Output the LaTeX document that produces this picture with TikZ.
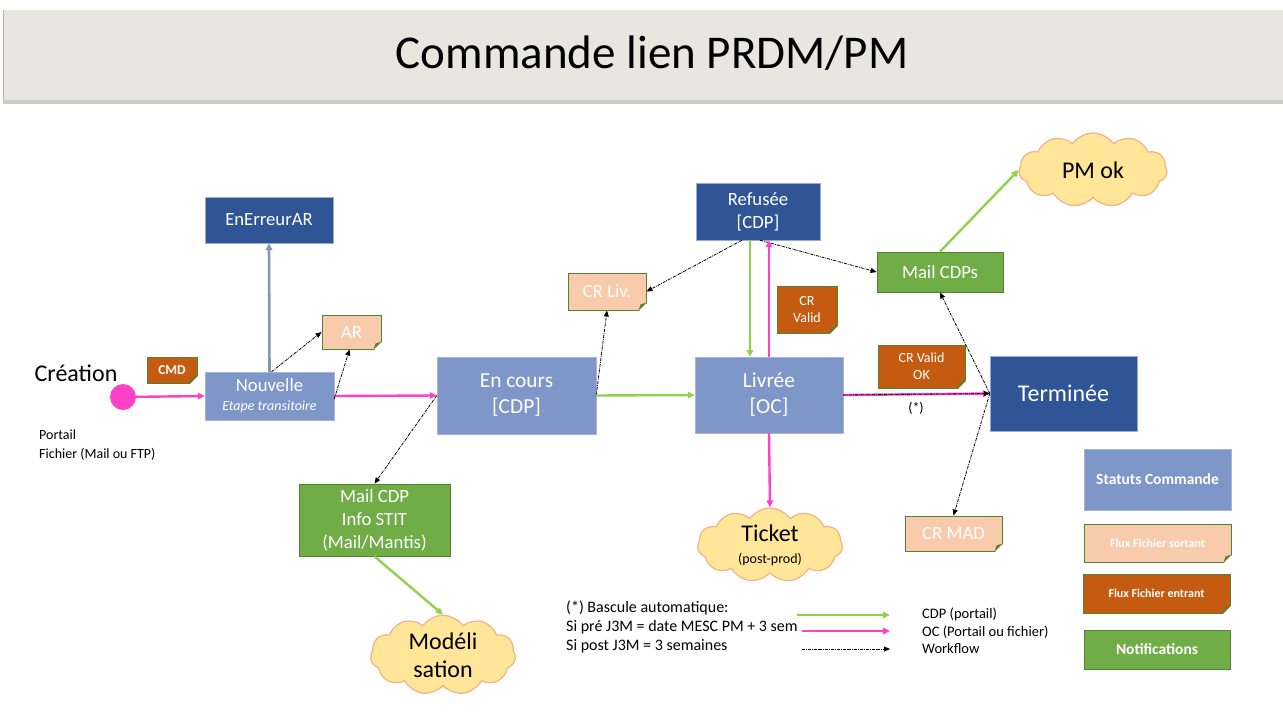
\documentclass[tikz,border=0pt]{standalone}
\usepackage{fontspec}
\setmainfont{Carlito}
\usetikzlibrary{arrows.meta,shapes.symbols}

\definecolor{titlebg}{HTML}{E7E6E0}
\definecolor{darkblue}{HTML}{2F5597}
\definecolor{statusblue}{HTML}{7F96C8}
\definecolor{peach}{HTML}{F8CBAD}
\definecolor{fileorange}{HTML}{C55A11}
\definecolor{notifgreen}{HTML}{70AD47}
\definecolor{edgegreen}{HTML}{548235}
\definecolor{ocpink}{HTML}{FF40C8}
\definecolor{cdpgreen}{HTML}{92D050}
\definecolor{errgrey}{HTML}{8497B0}
\definecolor{cloudfill}{HTML}{FFE699}
\definecolor{cloudedge}{HTML}{F4B183}

\newcommand{\fsz}[2]{\fontsize{#1}{#2}\selectfont}

\begin{document}
\begin{tikzpicture}[x=1pt,y=-1pt,
    status/.style={rectangle,fill=statusblue,draw=statusblue!70!white,text=white,align=center,inner sep=0pt},
    final/.style={rectangle,fill=darkblue,draw=statusblue!80!white,text=white,align=center,inner sep=0pt},
    outfile/.style={rectangle,fill=peach,draw=edgegreen,line width=1pt,text=white,align=center,inner sep=0pt},
    infile/.style={rectangle,fill=fileorange,draw=edgegreen,line width=1pt,text=white,align=center,inner sep=0pt},
    notif/.style={rectangle,fill=notifgreen,draw=edgegreen,line width=0.8pt,text=white,align=center,inner sep=0pt},
    bubble/.style={cloud,cloud puffs=11,cloud puff arc=110,aspect=2,fill=cloudfill,draw=cloudedge,line width=1.2pt,align=center,inner sep=0pt},
    oc/.style={draw=ocpink,line width=2.4pt,-{Triangle[length=7pt,width=6.5pt]}},
    cdp/.style={draw=cdpgreen,line width=2.4pt,-{Triangle[length=7pt,width=6.5pt]}},
    err/.style={draw=errgrey,line width=2.6pt,-{Triangle[length=7pt,width=6.5pt]}},
    wf/.style={draw=black,line width=0.8pt,densely dashdotted,-{Triangle[length=6pt,width=5pt]}}]

  \useasboundingbox (0,0) rectangle (1283,726);
  \fill[white] (0,0) rectangle (1283,726);

  % title band
  \fill[black!20] (3,100) rectangle (1283,104);
  \fill[titlebg] (3,10) rectangle (1283,100);
  \draw[black!30] (3,10) -- (3,100);
  \node (title) at (652,53) {\fsz{47}{54}Commande lien PRDM/PM};

  % left part
  \node (creation) at (76,373) {\fsz{24}{28}Création};
  \node (dot) at (123,397) [circle,fill=ocpink,minimum size=26pt,inner sep=0pt] {};
  \node (source) [anchor=north west,align=left,inner sep=0pt,font=\fsz{14}{19}] at (39,430) {Portail\\Fichier (Mail ou FTP)};
  \node (cmd) at (172,370) [infile,minimum width=50pt,minimum height=26pt,font=\fsz{13.5}{16}\bfseries] {CMD};
  \node (nouvelle) at (269.5,396) [status,minimum width=129pt,minimum height=48pt,font=\fsz{18.7}{19}] {Nouvelle\\\fsz{14}{19}\itshape Etape transitoire};
  \node (enerreur) at (269,220) [final,minimum width=128pt,minimum height=46pt,font=\fsz{18.7}{22}] {EnErreurAR};
  \node (ar) at (351.5,332) [outfile,minimum width=59pt,minimum height=34pt,font=\fsz{18.7}{22}] {AR};

  % middle part
  \node (encours) at (516.5,395.5) [status,minimum width=159pt,minimum height=77pt,font=\fsz{21.4}{26}] {En cours\\{}[CDP]};
  \node (mailcdp) at (374.5,520) [notif,minimum width=151pt,minimum height=72pt,font=\fsz{18.7}{23}] {Mail CDP\\Info STIT\\(Mail/Mantis)};
  \node (model) at (443,655) [bubble,minimum width=145pt,minimum height=76pt,font=\fsz{24}{28}] {Modéli\\sation};
  \node (crliv) at (607,291.5) [outfile,minimum width=78pt,minimum height=37pt,font=\fsz{18.7}{22}] {CR Liv.};
  \node (refusee) at (758,211.5) [final,minimum width=124pt,minimum height=57pt,font=\fsz{18.7}{23}] {Refusée\\{}[CDP]};
  \node (livree) at (769,395) [status,minimum width=148pt,minimum height=76pt,font=\fsz{21.4}{26}] {Livrée\\{}[OC]};
  \node (crvalid) at (807,309.5) [infile,minimum width=60pt,minimum height=47pt,font=\fsz{14}{17}] {CR\\Valid};
  \node (ticket) at (770,545) [bubble,minimum width=145pt,minimum height=74pt,font=\fsz{24}{22}] {Ticket\\\fsz{14}{22}(post-prod)};

  % right part
  \node (mailcdps) at (940,272) [notif,minimum width=126pt,minimum height=40pt,font=\fsz{18.7}{22}] {Mail CDPs};
  \node (pmok) at (1093,170) [bubble,minimum width=148pt,minimum height=74pt,font=\fsz{24}{28}] {PM ok};
  \node (crvalidok) at (921.5,366.5) [infile,minimum width=87pt,minimum height=43pt,font=\fsz{14}{17}] {CR Valid\\OK};
  \node (terminee) at (1063.5,393.5) [final,minimum width=147pt,minimum height=75pt,font=\fsz{24}{28}] {Terminée};
  \node (star) at (916,408) [font=\fsz{14}{16}] {(*)};
  \node (crmad) at (953.5,533.5) [outfile,minimum width=97pt,minimum height=35pt,font=\fsz{18.7}{22}] {CR MAD};

  % legend boxes
  \node (lstat) at (1157.5,479.5) [status,minimum width=147pt,minimum height=61pt,font=\fsz{15.5}{18}\bfseries] {Statuts Commande};
  \node (lsort) at (1157.5,543) [outfile,minimum width=147pt,minimum height=38pt,font=\fsz{12}{14}\bfseries] {Flux Fichier sortant};
  \node (lentr) at (1156.5,593.5) [infile,minimum width=147pt,minimum height=39pt,font=\fsz{12}{14}\bfseries] {Flux Fichier entrant};
  \node (lnotif) at (1157,649.5) [notif,minimum width=146pt,minimum height=39pt,font=\fsz{15.5}{18}\bfseries] {Notifications};

  % folded corners
  \foreach \n in {cmd,ar,crliv,crvalid,crvalidok,crmad,lsort,lentr}{
    \fill[white] ([shift={(1,1)}]\n.south east) -- ([shift={(-8,1)}]\n.south east) -- ([shift={(1,-8)}]\n.south east) -- cycle;
    \fill[edgegreen] ([shift={(-8,0)}]\n.south east) -- ([shift={(0,-8)}]\n.south east) -- ([shift={(-6,-6)}]\n.south east) -- cycle;
  }

  % bottom legend
  \node (note) [anchor=north west,align=left,inner sep=0pt,font=\fsz{16}{19}] at (566,601) {(*) Bascule automatique:\\Si pré J3M = date MESC PM + 3 sem\\Si post J3M = 3 semaines};
  \coordinate (g1) at (797,615);
  \coordinate (g2) at (890,615);
  \coordinate (m1) at (802,631);
  \coordinate (m2) at (890,631);
  \coordinate (w1) at (802,649);
  \coordinate (w2) at (890,649);
  \draw[cdp] (g1) -- (g2);
  \draw[oc] (m1) -- (m2);
  \draw[wf] (w1) -- (w2);
  \node (kcdp) [anchor=west,inner sep=0pt,font=\fsz{14.5}{16}] at (922,614) {CDP (portail)};
  \node (koc) [anchor=west,inner sep=0pt,font=\fsz{14.5}{16}] at (922,632) {OC (Portail ou fichier)};
  \node (kwf) [anchor=west,inner sep=0pt,font=\fsz{14.5}{16}] at (922,649) {Workflow};

  % connectors
  \draw[oc] (dot) -- (nouvelle.west);
  \draw[oc] (nouvelle.east) -- (encours.west);
  \draw[err] (nouvelle.north) -- (enerreur.south);
  \draw[wf] ([xshift=2]nouvelle.north) -- (ar.west);
  \draw[wf] ([yshift=-3]nouvelle.east) -- ([xshift=-2]ar.south);
  \draw[wf] (encours.west) -- (mailcdp.north);
  \draw[wf] (encours.east) -- (crliv.south);
  \draw[cdp] (encours.east) -- (livree.west);
  \draw[wf] ([xshift=-16]refusee.south) -- (crliv.east);
  \draw[wf] ([xshift=2]refusee.south) -- (mailcdps.west);
  \draw[cdp] ([xshift=-8]refusee.south) -- ([xshift=-8]refusee.south |- livree.north);
  \draw[oc] (livree.north) -- (livree.north |- refusee.south);
  \draw[oc] (livree.east) -- (terminee.west);
  \draw[wf] (livree.east) -- (terminee.west);
  \draw[oc] (livree.south) -- (ticket.north);
  \draw[wf] (terminee.west) -- (mailcdps.south);
  \draw[wf] (terminee.west) -- (crmad.north);
  \draw[cdp] (mailcdps.north) -- (pmok.west);
  \draw[cdp] (mailcdp.south) -- (model.north);
\end{tikzpicture}
\end{document}
